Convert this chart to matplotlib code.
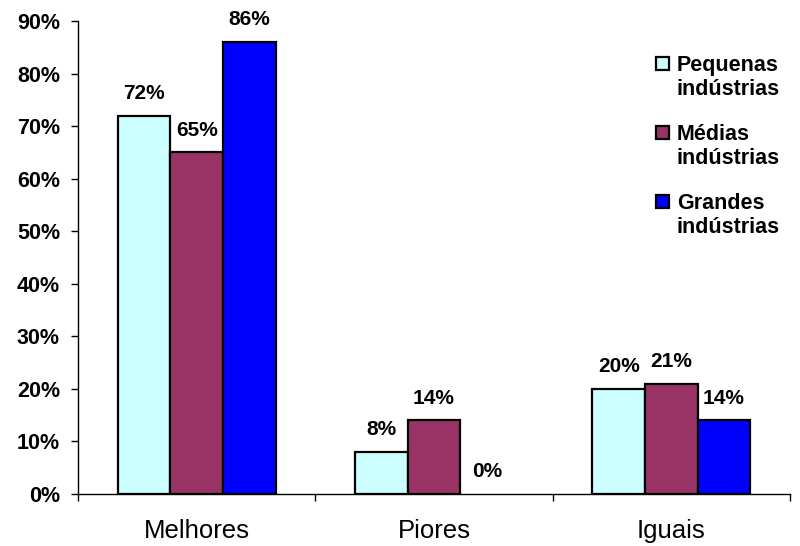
import numpy as np
import matplotlib.pyplot as plt
from matplotlib.patches import Rectangle

# Dados
categorias = ['Melhores', 'Piores', 'Iguais']
series = ['Pequenas\nindústrias', 'Médias\nindústrias', 'Grandes\nindústrias']
pequenas = [72, 8, 20]
medias = [65, 14, 21]
grandes = [86, 0, 14]
cores = ['#CCFFFF', '#993366', '#0000FF']

plt.rcParams['font.family'] = ['Liberation Sans', 'DejaVu Sans']

fig = plt.figure(figsize=(8, 5.46), dpi=100)
ax = fig.add_axes([0.0975, 0.0952, 0.89, 0.8663])

x = np.arange(len(categorias))
largura = 0.222
valores = [pequenas, medias, grandes]
for i, (vals, cor) in enumerate(zip(valores, cores)):
    pos = x + (i - 1) * largura
    lw = [1.6 if v > 0 else 0 for v in vals]
    ax.bar(pos, vals, largura, color=cor, edgecolor='black', linewidth=lw, zorder=3)
    for px, v in zip(pos, vals):
        ax.annotate(f'{v}%', (px, v), xytext=(0, 12), textcoords='offset points',
                    ha='center', va='baseline', fontsize=15, fontweight='bold')

ax.set_xlim(-0.5, 2.5)
ax.set_ylim(0, 90)
ax.set_yticks(range(0, 91, 10))
ax.set_yticklabels([f'{t}%' for t in range(0, 91, 10)], fontsize=15.5, fontweight='bold')
ax.tick_params(axis='y', length=5, width=1, pad=8, direction='out')

ax.set_xticks(x)
ax.set_xticklabels(categorias, fontsize=18.5)
ax.tick_params(axis='x', which='major', length=0, pad=18)
ax.set_xticks([-0.5, 0.5, 1.5, 2.5], minor=True)
ax.tick_params(axis='x', which='minor', length=5, width=1, direction='out')

for s in ['top', 'right']:
    ax.spines[s].set_visible(False)
for s in ['left', 'bottom']:
    ax.spines[s].set_linewidth(1)

# Legenda
leg_y = [0.882, 0.756, 0.630]
for yy, lab, cor in zip(leg_y, series, cores):
    fig.patches.append(Rectangle((0.82, yy - 0.011), 0.0165, 0.024, transform=fig.transFigure,
                                 facecolor=cor, edgecolor='black', linewidth=1.6))
    fig.text(0.846, yy + 0.017, lab, fontsize=15.5, fontweight='bold', va='top',
             ha='left', linespacing=1.2)

plt.savefig('out.png', dpi=100)
